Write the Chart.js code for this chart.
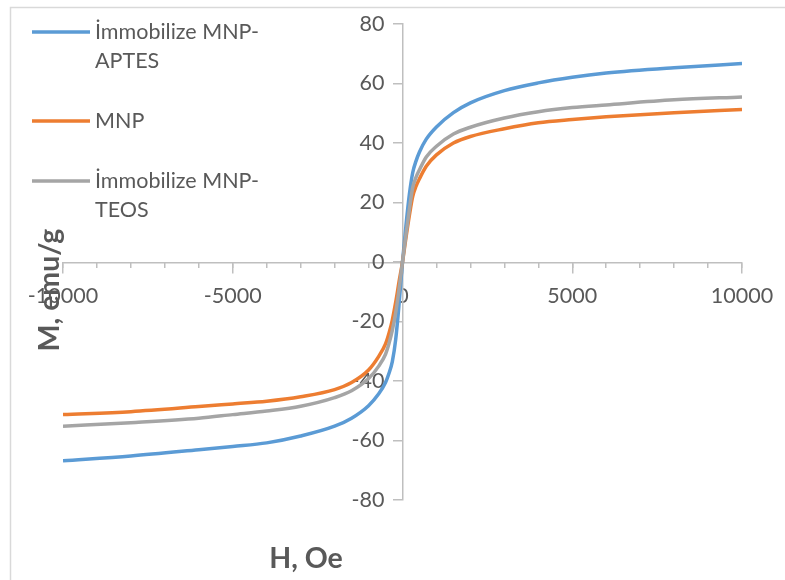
<!DOCTYPE html>
<html>
<head>
<meta charset="utf-8">
<script src="https://cdn.jsdelivr.net/npm/chart.js@4.4.1/dist/chart.umd.min.js"></script>
<style>
  html, body { margin: 0; padding: 0; background: #fff; }
  #wrap { width: 785px; height: 580px; }
</style>
</head>
<body>
<div id="wrap"><canvas id="hysteresis"></canvas></div>
<script>
// applied field H (Oe)
const fieldOe = [-10000, -8000, -6000, -5000, -4000, -3000, -2000, -1500, -1000, -700, -500, -400, -300, -200, -100,
                 0, 100, 200, 300, 400, 500, 700, 1000, 1500, 2000, 3000, 4000, 5000, 6000, 8000, 10000];

// magnetisation M (emu/g)
const aptes = [-66.8, -65.2, -63.1, -62.0, -60.8, -58.5, -55.2, -52.5, -48.3, -44.3, -40.5, -37.5, -33.5, -26.0, -14.0,
               0, 12.0, 22.5, 30.0, 34.0, 37.0, 41.3, 45.4, 50.2, 53.5, 57.6, 60.2, 62.1, 63.5, 65.3, 66.7];
const mnp = [-51.3, -50.3, -48.6, -47.7, -46.8, -45.3, -42.9, -40.5, -36.3, -31.7, -27.5, -24.0, -19.5, -13.5, -6.5,
             0, 8.0, 15.5, 22.0, 25.5, 28.0, 32.2, 36.0, 40.0, 42.2, 44.8, 46.8, 47.9, 48.8, 50.2, 51.3];
const teos = [-55.2, -54.0, -52.5, -51.3, -50.1, -48.5, -45.6, -43.3, -39.2, -35.0, -31.0, -27.5, -23.0, -17.0, -9.0,
              0, 9.0, 17.5, 25.0, 28.5, 31.0, 35.3, 38.9, 43.0, 45.3, 48.4, 50.5, 51.9, 52.8, 54.5, 55.5];

const seriesNames = [["İmmobilize MNP-", "APTES"], ["MNP"], ["İmmobilize MNP-", "TEOS"]];
const xTicks = [-10000, -5000, 0, 5000, 10000];
const yTicks = [-80, -60, -40, -20, 0, 20, 40, 60, 80];

const colors = ["#5b9bd5", "#ed7d31", "#a5a5a5"];
const textGray = "#595959";
const axisGray = "#bfbfbf";
const FONT = "Lato, 'Open Sans', sans-serif";
const FONT_SIZE = 21.5;

function toPoints(values) {
    return fieldOe.map((h, i) => ({ x: h, y: values[i] }));
}

function makeSet(idx, values, order) {
    return {
        label: seriesNames[idx].join(""),
        data: toPoints(values),
        showLine: true,
        borderColor: colors[idx],
        backgroundColor: colors[idx],
        borderWidth: 3.5,
        pointRadius: 0,
        pointHoverRadius: 0,
        cubicInterpolationMode: "monotone",
        order: order,
    };
}

// frame, legend and axis titles
const decorations = {
    id: "decorations",
    beforeDraw(chart) {
        const ctx = chart.ctx;
        ctx.save();
        ctx.fillStyle = "#fff";
        ctx.fillRect(0, 0, chart.width, chart.height);
        ctx.strokeStyle = "#d9d9d9";
        ctx.lineWidth = 1.5;
        ctx.strokeRect(10.5, 7.5, chart.width + 20, chart.height + 20);
        ctx.restore();
    },
    afterDraw(chart) {
        const ctx = chart.ctx;
        ctx.save();

        const rows = [32, 121, 181];
        chart.data.datasets.forEach((ds, i) => {
            const y = rows[i];
            ctx.strokeStyle = ds.borderColor;
            ctx.lineWidth = 3.5;
            ctx.beginPath();
            ctx.moveTo(32, y);
            ctx.lineTo(90, y);
            ctx.stroke();
            ctx.fillStyle = textGray;
            ctx.font = FONT_SIZE + "px " + FONT;
            ctx.textAlign = "left";
            ctx.textBaseline = "middle";
            seriesNames[i].forEach((line, k) => {
                ctx.fillText(line, 95, y + k * 29);
            });
        });

        ctx.fillStyle = textGray;
        ctx.font = "bold 28.5px " + FONT;
        ctx.textAlign = "center";
        ctx.textBaseline = "middle";
        ctx.fillText("H, Oe", 306, 559);

        ctx.translate(50, 290);
        ctx.rotate(-Math.PI / 2);
        ctx.fillText("M, emu/g", 0, 0);
        ctx.restore();
    },
};

const ctx = document.getElementById("hysteresis");
new Chart(ctx, {
    type: "scatter",
    data: {
        datasets: [
            makeSet(0, aptes, 3),
            makeSet(1, mnp, 2),
            makeSet(2, teos, 1),
        ],
    },
    options: {
        responsive: true,
        maintainAspectRatio: false,
        animation: false,
        events: [],
        layout: { padding: { left: 63, right: 43, top: 24, bottom: 80 } },
        plugins: {
            legend: { display: false },
            tooltip: { enabled: false },
        },
        scales: {
            x: {
                type: "linear",
                position: "center",
                min: -10000,
                max: 10000,
                afterFit: (scale) => { scale.height = 0; },
                afterBuildTicks: (scale) => { scale.ticks = xTicks.map((v) => ({ value: v })); },
                grid: { drawOnChartArea: false, tickLength: 10, tickColor: axisGray, lineWidth: 1.5 },
                border: { color: axisGray, width: 1.5 },
                ticks: {
                    autoSkip: false,
                    maxRotation: 0,
                    minRotation: 0,
                    padding: 11,
                    color: textGray,
                    font: { family: FONT, size: FONT_SIZE },
                    callback: (v) => String(v),
                },
            },
            xMinor: {
                type: "linear",
                axis: "x",
                position: "center",
                min: -10000,
                max: 10000,
                afterFit: (scale) => { scale.height = 0; },
                grid: { drawOnChartArea: false, tickLength: 5, tickColor: axisGray, lineWidth: 1.5 },
                border: { display: false },
                ticks: { stepSize: 1000, display: false },
            },
            y: {
                type: "linear",
                position: "center",
                min: -80,
                max: 80,
                afterFit: (scale) => { scale.width = 0; },
                afterBuildTicks: (scale) => { scale.ticks = yTicks.map((v) => ({ value: v })); },
                grid: { drawOnChartArea: false, tickLength: 9, tickColor: axisGray, lineWidth: 1.5 },
                border: { color: axisGray, width: 1.5 },
                ticks: {
                    padding: 9,
                    color: textGray,
                    font: { family: FONT, size: FONT_SIZE },
                    callback: (v) => String(v),
                },
            },
        },
    },
    plugins: [decorations],
});
</script>
</body>
</html>
